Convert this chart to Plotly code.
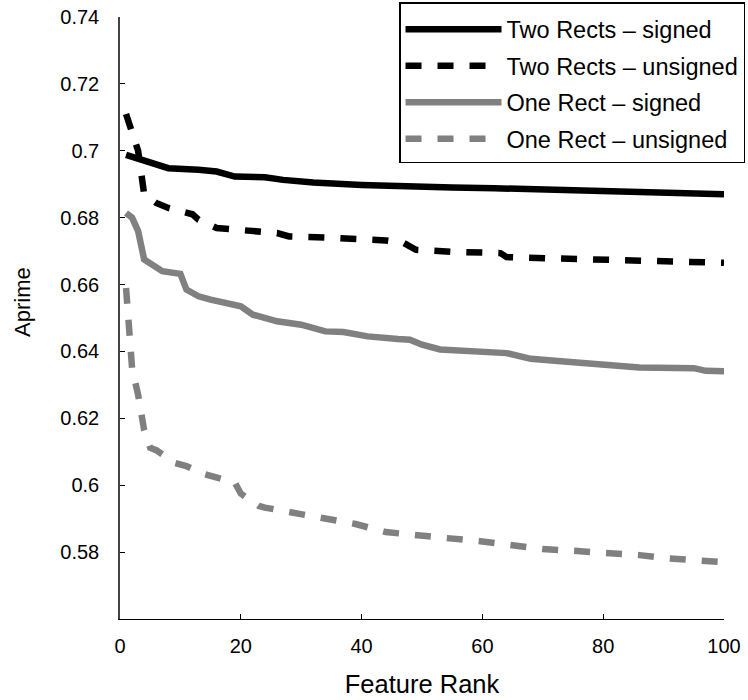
import plotly.graph_objects as go

# ---- data ----
x_two_signed = [1, 4, 6, 8, 13, 16, 19, 24, 27, 32, 40, 47, 55, 62, 70, 78, 85, 92, 100]
y_two_signed = [0.6988, 0.6973, 0.6963, 0.6948, 0.6943, 0.6938, 0.6923, 0.6921, 0.6913, 0.6905,
                0.6898, 0.6893, 0.6890, 0.6888, 0.6885, 0.6880, 0.6877, 0.6874, 0.6870]

x_two_unsigned = [1, 2, 3, 4, 6, 8, 11, 12, 13, 16, 26, 28, 35, 44, 47, 49, 55, 63, 64, 68, 75, 85, 100]
y_two_unsigned = [0.7110, 0.7060, 0.7000, 0.6870, 0.6844, 0.6829, 0.6814, 0.6810, 0.6794, 0.6769,
                  0.6754, 0.6744, 0.6740, 0.6732, 0.6724, 0.6704, 0.6698, 0.6694, 0.6682, 0.6680,
                  0.6674, 0.6670, 0.6665]

x_one_signed = [1, 2, 3, 4, 7, 10, 11, 13, 15, 20, 22, 26, 30, 34, 37, 41, 46, 48, 50, 53,
                64, 68, 73, 82, 86, 95, 97, 100]
y_one_signed = [0.6814, 0.6800, 0.6760, 0.6675, 0.6640, 0.6632, 0.6585, 0.6565, 0.6555, 0.6535,
                0.6510, 0.6490, 0.6480, 0.6460, 0.6458, 0.6445, 0.6437, 0.6435, 0.6420, 0.6406,
                0.6395, 0.6378, 0.6371, 0.6361, 0.6352, 0.6350, 0.6342, 0.6341]

x_one_unsigned = [1, 2, 3, 4, 5, 6, 9, 11, 14, 16, 19, 20, 23, 24, 29, 33, 39, 44, 49, 54,
                  60, 65, 70, 75, 81, 86, 91, 96, 100]
y_one_unsigned = [0.6590, 0.6350, 0.6270, 0.6165, 0.6112, 0.6105, 0.6067, 0.6057, 0.6033, 0.6023,
                  0.6008, 0.5975, 0.5938, 0.5933, 0.5918, 0.5903, 0.5884, 0.5860, 0.5849, 0.5842,
                  0.5832, 0.5819, 0.5809, 0.5804, 0.5799, 0.5791, 0.5781, 0.5774, 0.5770]

series_names = ["Two Rects \u2013 signed", "Two Rects \u2013 unsigned",
                "One Rect \u2013 signed", "One Rect \u2013 unsigned"]

x_ticks = [0, 20, 40, 60, 80, 100]
y_ticks = [0.58, 0.60, 0.62, 0.64, 0.66, 0.68, 0.70, 0.72, 0.74]
y_tick_text = ["0.58", "0.6", "0.62", "0.64", "0.66", "0.68", "0.7", "0.72", "0.74"]

FONT = "Liberation Sans, Arial, Helvetica, sans-serif"
DASH = "16px,16px"

fig = go.Figure()
styles = [
    ("black", "solid"),
    ("black", DASH),
    ("#808080", "solid"),
    ("#808080", DASH),
]
data = [(x_two_signed, y_two_signed), (x_two_unsigned, y_two_unsigned),
        (x_one_signed, y_one_signed), (x_one_unsigned, y_one_unsigned)]
for i, ((xs, ys), name, (col, dash)) in enumerate(zip(data, series_names, styles)):
    fig.add_trace(go.Scatter(
        x=xs, y=ys, mode="lines", name=name, legendgroup=f"g{i}",
        line=dict(color=col, width=6.5, dash=dash),
    ))

fig.update_layout(
    width=748, height=700,
    margin=dict(l=120, r=24, t=17, b=81, autoexpand=False),
    paper_bgcolor="white", plot_bgcolor="white",
    font=dict(family=FONT, size=20, color="black"),
    showlegend=True,
    legend=dict(
        x=1.0348, xanchor="right", y=1.0249, yanchor="top",
        bordercolor="black", borderwidth=1.5, bgcolor="white",
        font=dict(family=FONT, size=23.5, color="black"),
        itemwidth=96, tracegroupgap=3,
        title=dict(text=" ", font=dict(size=3)),
    ),
    xaxis=dict(
        range=[0, 100], tickvals=x_ticks, ticks="inside", ticklen=5,
        tickcolor="black", showline=True, linecolor="black", linewidth=1.2,
        showgrid=False, zeroline=False, ticklabelstandoff=9,
        ticklabeloverflow="allow",
        title=dict(text="Feature Rank", font=dict(size=25.5), standoff=19),
    ),
    yaxis=dict(
        range=[0.56, 0.74], tickvals=y_ticks, ticktext=y_tick_text,
        ticks="inside", ticklen=5, tickcolor="black",
        showline=True, linecolor="#444", linewidth=1.5,
        showgrid=False, zeroline=False, ticklabelstandoff=15,
        ticklabeloverflow="allow",
    ),
    annotations=[dict(
        text="Aprime", textangle=-90, xref="paper", yref="paper",
        x=-0.1606, y=0.5266, xanchor="center", yanchor="middle",
        showarrow=False, font=dict(family=FONT, size=22, color="black"),
    )],
)

fig.write_html(
    "out.html",
    config={"displayModeBar": False},
    post_script="document.body.style.margin='0';document.body.style.overflow='hidden';",
)
